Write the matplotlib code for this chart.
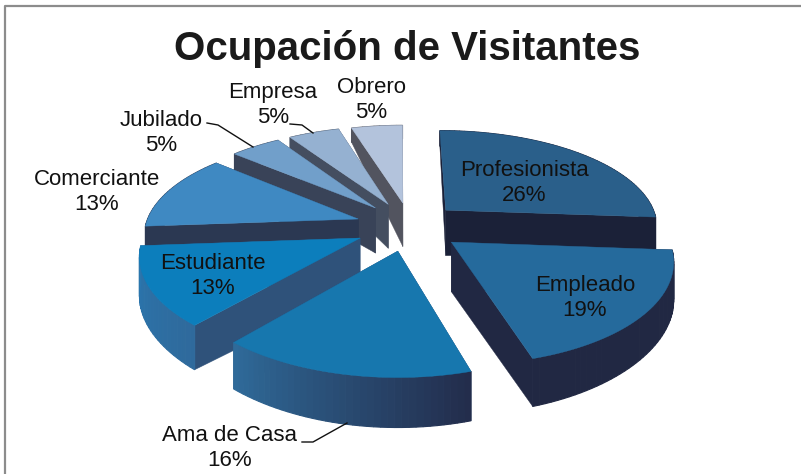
import numpy as np
import matplotlib
matplotlib.use("Agg")
import matplotlib.pyplot as plt

# datos
etiquetas = ["Profesionista", "Empleado", "Ama de Casa", "Estudiante",
             "Comerciante", "Jubilado", "Empresa", "Obrero"]
porcentajes = [26, 19, 16, 13, 13, 5, 5, 5]
# valor estimado de cada rebanada, antes de redondear
valores = [26.4, 19.4, 16.0, 12.6, 12.6, 4.6, 4.6, 4.6]

# estilo de cada rebanada: desplazamiento del vertice
despl_x = [0.22, 0.235, -0.01, -0.184, -0.198, -0.118, -0.057, 0.014]
despl_y = [0.137, -0.193, -0.28, -0.153, 0.042, 0.16, 0.20, 0.215]
color_top = ["#2A5F8A", "#256A9C", "#1777AE", "#0C7EBC",
             "#3F89C2", "#719FCA", "#95B1D1", "#B3C3DC"]
color_radial = ["#1B2138", "#212843", "#2A4F7C", "#2F527A",
                "#2B3852", "#394358", "#444E60", "#52545F"]
arco_ini = ["#1B2138", "#212843", "#232D4C", "#2F6A9C",
            "#2B3852", "#394358", "#444E60", "#52545F"]
arco_fin = ["#1B2138", "#212843", "#2F6A99", "#2A76AE",
            "#2B3852", "#394358", "#444E60", "#52545F"]
# orden de pintado: de atras hacia adelante
orden = [7, 6, 5, 4, 3, 0, 1, 2]

pos_texto = [(524, 183), (585, 298), (230, 448), (213, 276),
             (97, 192), (161, 133), (273, 105), (371, 100)]

CX, CY = 400, 223
A, B = 212, 96
KX, KY = 0.15, 0.16


def proyectar(X, Y):
    x = CX + A * X / (1 + KX * Y)
    y = CY - B * Y / (1 + KY * Y)
    return x, y


def profundidad(X, Y):
    return np.clip(44 - 30 * (Y - 0.2), 10, 50) - 8 * X ** 2


def mezcla(c1, c2, t):
    a = np.array(matplotlib.colors.to_rgb(c1))
    b = np.array(matplotlib.colors.to_rgb(c2))
    return tuple(a + (b - a) * t)


fig = plt.figure(figsize=(8.01, 4.74), dpi=100)
ax = fig.add_axes([0, 0, 1, 1])
ax.set_xlim(0, 801)
ax.set_ylim(474, 0)
ax.axis("off")

# marco gris solo arriba e izquierda
ax.plot([5, 5, 801], [474, 6, 6], color="#8C8C8C", lw=1.6, solid_capstyle="butt")

limites = 90 - np.cumsum([0] + valores) / sum(valores) * 360

for i in orden:
    t1, t2 = np.radians(limites[i]), np.radians(limites[i + 1])
    X0, Y0 = despl_x[i], despl_y[i]
    tt = np.linspace(t1, t2, max(int(abs(np.degrees(t2 - t1)) / 1.5), 4))
    Xa = X0 + np.cos(tt)
    Ya = Y0 + np.sin(tt)
    xa, ya = proyectar(Xa, Ya)
    da = profundidad(Xa, Ya)
    x0, y0 = proyectar(X0, Y0)
    d0 = profundidad(X0, Y0)

    # paredes radiales
    for k in (0, -1):
        ax.fill([x0, xa[k], xa[k], x0], [y0, ya[k], ya[k] + da[k], y0 + d0],
                color=color_radial[i], lw=0.3)
    # pared curva con degradado
    for k in range(len(tt) - 1):
        c = mezcla(arco_ini[i], arco_fin[i], k / (len(tt) - 2))
        ax.fill([xa[k], xa[k + 1], xa[k + 1], xa[k]],
                [ya[k], ya[k + 1], ya[k + 1] + da[k + 1], ya[k] + da[k]],
                color=c, lw=0.8)
    # cara superior
    ax.fill(np.r_[x0, xa], np.r_[y0, ya], color=color_top[i], lw=0.3)

fuente = "Liberation Sans"
ax.text(407, 49, "Ocupación de Visitantes", ha="center", va="center",
        family=fuente, weight="bold", fontsize=29, color="#1A1A1A")

for nombre, valor, (tx, ty) in zip(etiquetas, porcentajes, pos_texto):
    ax.text(tx, ty, f"{nombre}\n{valor}%", ha="center", va="center",
            family=fuente, fontsize=16, color="#111111", linespacing=1.2)

# lineas guia
ax.plot([207, 218, 253], [123, 125, 147], color="#111111", lw=1)
ax.plot([290, 302, 313], [124, 125, 133], color="#111111", lw=1)
ax.plot([302, 313, 347], [442, 442, 423], color="#111111", lw=1)

fig.savefig("out.png", dpi=100)
